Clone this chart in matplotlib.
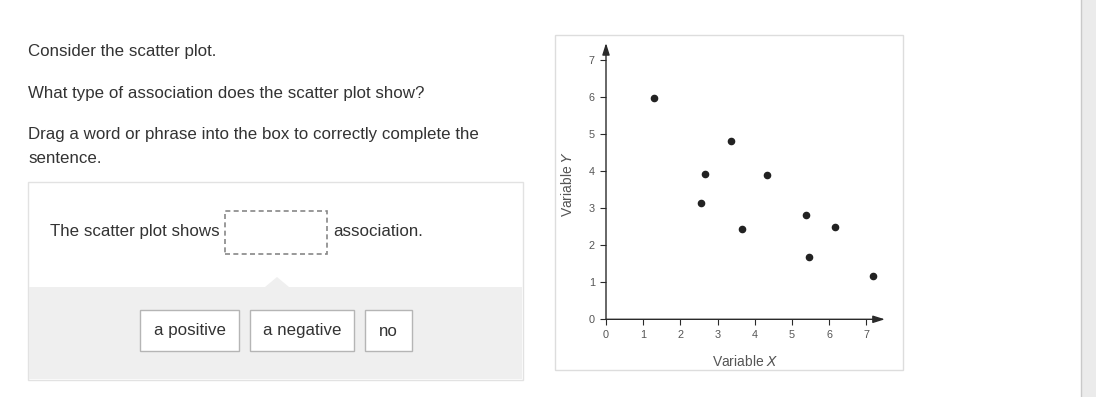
import matplotlib
matplotlib.use("Agg")
import matplotlib.pyplot as plt
from matplotlib.patches import Rectangle, Polygon

plt.rcParams['font.family'] = ['Liberation Sans', 'DejaVu Sans']

# Data
x_vals = [1.29, 3.37, 2.66, 4.33, 2.56, 3.65, 5.39, 6.17, 5.47, 7.19]
y_vals = [5.96, 4.82, 3.92, 3.89, 3.14, 2.44, 2.82, 2.50, 1.67, 1.18]
ticks = [0, 1, 2, 3, 4, 5, 6, 7]
choices = ["a positive", "a negative", "no"]

W, H = 1096, 397
fig = plt.figure(figsize=(W / 100, H / 100), dpi=100)
fig.patch.set_facecolor('white')

def fx(px):
    return px / W

def fy(py):
    return 1 - py / H

def rect(x0, y0, x1, y1, **kw):
    r = Rectangle((fx(x0), fy(y1)), fx(x1) - fx(x0), fy(y0) - fy(y1),
                  transform=fig.transFigure, **kw)
    fig.add_artist(r)
    return r

TXT = '#333333'
FS = 12.2

# Question text
fig.text(fx(28), fy(51.5), "Consider the scatter plot.", fontsize=FS, color=TXT, va='center')
fig.text(fx(28), fy(93.5), "What type of association does the scatter plot show?", fontsize=FS, color=TXT, va='center')
fig.text(fx(28), fy(134.5), "Drag a word or phrase into the box to correctly complete the", fontsize=FS, color=TXT, va='center')
fig.text(fx(28), fy(158.5), "sentence.", fontsize=FS, color=TXT, va='center')

# Answer panel
rect(28, 182, 523, 380, facecolor='white', edgecolor='#e2e2e2', lw=1, zorder=0)
rect(29, 287, 522, 379, facecolor='#efefef', edgecolor='none', zorder=0.5)
tri = Polygon([(fx(265), fy(287)), (fx(277), fy(277)), (fx(289), fy(287))],
              closed=True, transform=fig.transFigure, facecolor='#efefef', edgecolor='none', zorder=0.5)
fig.add_artist(tri)

fig.text(fx(50), fy(231.5), "The scatter plot shows", fontsize=FS, color=TXT, va='center')
rect(225, 211, 327, 254, facecolor='white', edgecolor='#888888', lw=1.2, linestyle=(0, (3, 2)), zorder=1)
fig.text(fx(333), fy(231.5), "association.", fontsize=FS, color=TXT, va='center')

btn_x = [(140, 239), (250, 354), (365, 412)]
for (a, b), lab in zip(btn_x, choices):
    rect(a, 310, b, 351, facecolor='white', edgecolor='#b5b5b5', lw=1, zorder=1)
    fig.text(fx((a + b) / 2), fy(331), lab, fontsize=FS, color=TXT, va='center', ha='center')

# Scrollbar
rect(1080.5, 0, 1096, 397, facecolor='#ebebeb', edgecolor='none', zorder=0)
fig.add_artist(plt.Line2D([fx(1080.5), fx(1080.5)], [0, 1], transform=fig.transFigure,
                          color='#c9c9c9', lw=1))

# Plot frame
rect(555, 35, 903, 370, facecolor='white', edgecolor='#dddddd', lw=1, zorder=0)

# Scatter axes: x=0 at px 606, x=7 at 866.3; y=0 at 319.3, y=7 at 59.7
x0p, x7p = 606.0, 866.3
y0p, y7p = 319.3, 59.7
ux = (x7p - x0p) / 7
uy = (y0p - y7p) / 7
xmax, ymax = 7.5, 7.5
ax = fig.add_axes([fx(x0p), fy(y0p), xmax * ux / W, ymax * uy / H])
ax.set_zorder(10)
ax.set_xlim(0, xmax)
ax.set_ylim(0, ymax)
ax.patch.set_alpha(0)
for s in ax.spines.values():
    s.set_visible(False)

AX_C = '#2a2a2a'
ax.annotate('', xy=(7.5, 0), xytext=(0, 0), xycoords='data',
            arrowprops=dict(arrowstyle='-|>,head_length=0.7,head_width=0.22', color=AX_C, lw=1,
                            shrinkA=0, shrinkB=0), annotation_clip=False)
ax.annotate('', xy=(0, 7.45), xytext=(0, 0), xycoords='data',
            arrowprops=dict(arrowstyle='-|>,head_length=0.7,head_width=0.22', color=AX_C, lw=1,
                            shrinkA=0, shrinkB=0), annotation_clip=False)

ax.set_xticks(ticks)
ax.set_yticks(ticks)
ax.set_xticklabels([str(t) for t in ticks])
ax.set_yticklabels([str(t) for t in ticks])
ax.tick_params(axis='both', direction='out', length=4, width=0.8, color=AX_C,
               labelsize=7.8, labelcolor='#555555', pad=4)

ax.scatter(x_vals, y_vals, s=20, color='#222222', zorder=5, clip_on=False)

fig.text(fx(745), fy(362), r"Variable $\it{X}$", fontsize=10, color='#555555', ha='center', va='center')
fig.text(fx(568), fy(184), r"Variable $\it{Y}$", fontsize=10, color='#555555', ha='center', va='center',
         rotation=90)

fig.savefig("out.png", dpi=100)
